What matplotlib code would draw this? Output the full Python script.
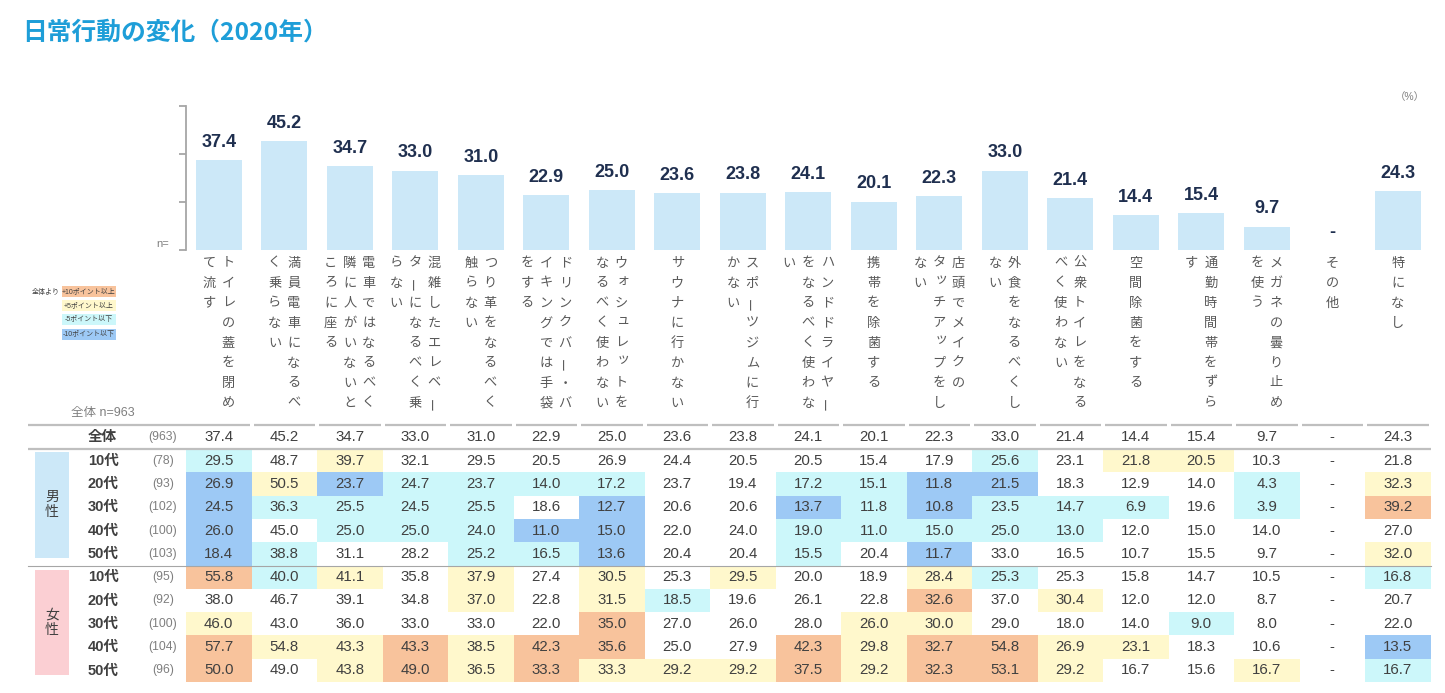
import numpy as np
import matplotlib
matplotlib.use("Agg")
import matplotlib.pyplot as plt
from matplotlib.patches import Rectangle

plt.rcParams["font.family"] = ["Liberation Sans", "Noto Sans CJK JP", "DejaVu Sans"]

# ---- data ----
labels = [
    "トイレの蓋を閉め\nて流す",
    "満員電車になるべ\nく乗らない",
    "電車ではなるべく\n隣に人がいないと\nころに座る",
    "混雑したエレベー\nターになるべく乗\nらない",
    "つり革をなるべく\n触らない",
    "ドリンクバー・バ\nイキングでは手袋\nをする",
    "ウォシュレットを\nなるべく使わない",
    "サウナに行かない",
    "スポーツジムに行\nかない",
    "ハンドドライヤー\nをなるべく使わな\nい",
    "携帯を除菌する",
    "店頭でメイクの\nタッチアップをし\nない",
    "外食をなるべくし\nない",
    "公衆トイレをなる\nべく使わない",
    "空間除菌をする",
    "通勤時間帯をずら\nす",
    "メガネの曇り止め\nを使う",
    "その他",
    "特になし",
]

total = [37.4, 45.2, 34.7, 33.0, 31.0, 22.9, 25.0, 23.6, 23.8, 24.1,
         20.1, 22.3, 33.0, 21.4, 14.4, 15.4, 9.7, np.nan, 24.3]
total_n = 963

age_groups = ["10代", "20代", "30代", "40代", "50代"]
male_n = [78, 93, 102, 100, 103]
female_n = [95, 92, 100, 104, 96]

male_10s = [29.5, 48.7, 39.7, 32.1, 29.5, 20.5, 26.9, 24.4, 20.5, 20.5, 15.4, 17.9, 25.6, 23.1, 21.8, 20.5, 10.3, np.nan, 21.8]
male_20s = [26.9, 50.5, 23.7, 24.7, 23.7, 14.0, 17.2, 23.7, 19.4, 17.2, 15.1, 11.8, 21.5, 18.3, 12.9, 14.0, 4.3, np.nan, 32.3]
male_30s = [24.5, 36.3, 25.5, 24.5, 25.5, 18.6, 12.7, 20.6, 20.6, 13.7, 11.8, 10.8, 23.5, 14.7, 6.9, 19.6, 3.9, np.nan, 39.2]
male_40s = [26.0, 45.0, 25.0, 25.0, 24.0, 11.0, 15.0, 22.0, 24.0, 19.0, 11.0, 15.0, 25.0, 13.0, 12.0, 15.0, 14.0, np.nan, 27.0]
male_50s = [18.4, 38.8, 31.1, 28.2, 25.2, 16.5, 13.6, 20.4, 20.4, 15.5, 20.4, 11.7, 33.0, 16.5, 10.7, 15.5, 9.7, np.nan, 32.0]

female_10s = [55.8, 40.0, 41.1, 35.8, 37.9, 27.4, 30.5, 25.3, 29.5, 20.0, 18.9, 28.4, 25.3, 25.3, 15.8, 14.7, 10.5, np.nan, 16.8]
female_20s = [38.0, 46.7, 39.1, 34.8, 37.0, 22.8, 31.5, 18.5, 19.6, 26.1, 22.8, 32.6, 37.0, 30.4, 12.0, 12.0, 8.7, np.nan, 20.7]
female_30s = [46.0, 43.0, 36.0, 33.0, 33.0, 22.0, 35.0, 27.0, 26.0, 28.0, 26.0, 30.0, 29.0, 18.0, 14.0, 9.0, 8.0, np.nan, 22.0]
female_40s = [57.7, 54.8, 43.3, 43.3, 38.5, 42.3, 35.6, 25.0, 27.9, 42.3, 29.8, 32.7, 54.8, 26.9, 23.1, 18.3, 10.6, np.nan, 13.5]
female_50s = [50.0, 49.0, 43.8, 49.0, 36.5, 33.3, 33.3, 29.2, 29.2, 37.5, 29.2, 32.3, 53.1, 29.2, 16.7, 15.6, 16.7, np.nan, 16.7]

male_rows = [male_10s, male_20s, male_30s, male_40s, male_50s]
female_rows = [female_10s, female_20s, female_30s, female_40s, female_50s]

legend_labels = ["+10ポイント以上", "+5ポイント以上", "-5ポイント以下", "-10ポイント以下"]

# ---- style ----
C_UP10 = "#f8c39c"
C_UP5 = "#fff8cc"
C_DN5 = "#ccf7fa"
C_DN10 = "#9dc9f5"
BAR = "#cce8f8"
TXT = "#404040"
GRAY = "#7f7f7f"
LINE = "#bfbfbf"

W, H = 1445, 693
X0, CW = 186.0, 65.5          # table/bar column start and width (px)
NCOL = len(labels)


def cell_color(v, base):
    if np.isnan(v) or np.isnan(base):
        return None
    d = round(v - base, 1)
    if d >= 10:
        return C_UP10
    if d >= 5:
        return C_UP5
    if d <= -10:
        return C_DN10
    if d <= -5:
        return C_DN5
    return None


def fmt(v):
    return "-" if np.isnan(v) else f"{v:.1f}"


fig = plt.figure(figsize=(W / 100, H / 100), dpi=100)

# overlay axes in pixel coordinates
ov = fig.add_axes([0, 0, 1, 1])
ov.set_xlim(0, W)
ov.set_ylim(H, 0)
ov.axis("off")

# ---- bar chart ----
base_y, top_y = 250.0, 105.5
axb = fig.add_axes([X0 / W, 1 - base_y / H, NCOL * CW / W, (base_y - top_y) / H])
xs = np.arange(NCOL)
axb.bar(xs, np.nan_to_num(total), width=0.7, color=BAR)
axb.set_xlim(-0.5, NCOL - 0.5)
axb.set_ylim(0, 60)
axb.set_yticks([0, 20, 40, 60])
axb.set_yticklabels([])
axb.set_xticks([])
for s in ["top", "right", "bottom"]:
    axb.spines[s].set_visible(False)
axb.spines["left"].set_color("#a6a6a6")
axb.spines["left"].set_linewidth(1.3)
axb.tick_params(axis="y", direction="out", length=5, width=1.3, color="#a6a6a6")
axb.patch.set_alpha(0)
for x, v in zip(xs, total):
    axb.annotate(fmt(v), (x, 0 if np.isnan(v) else v), xytext=(0, 9.5),
                 textcoords="offset points", ha="center", va="baseline",
                 fontsize=13, fontweight="bold", color="#1f2f4f")

ov.text(163, 244, "n=", ha="center", va="center", fontsize=8, color=GRAY)
ov.text(1410, 97, "（%）", ha="center", va="center", fontsize=7.5, color=GRAY)

# title
ov.text(22, 33, "日常行動の変化（2020年）", ha="left", va="center",
        fontsize=17.8, fontweight="bold", color="#1e9ed8",
        family=["Noto Sans CJK JP", "Liberation Sans"])

# ---- vertical category labels ----
small_kana = set("ッォュャィョェァ")
for i, lab in enumerate(labels):
    cx = X0 + (i + 0.5) * CW
    cols = lab.split("\n")
    n = len(cols)
    for j, col in enumerate(cols):
        x = cx + ((n - 1) / 2 - j) * 19
        for k, ch in enumerate(col):
            y = 263 + k * 20
            rot = 0
            dx = dy = 0
            if ch == "ー":
                rot = 90
            if ch in small_kana:
                dx, dy = 2.5, -3
            ov.text(x + dx, y + dy, ch, ha="center", va="center", rotation=rot,
                    fontsize=9.5, color="#595959", family=["Noto Sans CJK JP"])

# ---- legend ----
ov.text(46, 292, "全体より", ha="center", va="center", fontsize=5, color=TXT,
        family=["Noto Sans CJK JP"])
for (y0, y1), col, lab in zip([(286, 297), (300, 311), (314, 325), (329, 340)],
                              [C_UP10, C_UP5, C_DN5, C_DN10], legend_labels):
    ov.add_patch(Rectangle((62, y0), 54, y1 - y0, facecolor=col, edgecolor="none"))
    ov.text(89, (y0 + y1) / 2, lab, ha="center", va="center", fontsize=5,
            color=TXT)

ov.text(103, 413, "全体 n=963", ha="center", va="center", fontsize=9, color=GRAY)

# ---- table ----
RH = 23.3
VAL_FS = 10.8
# segmented top line
for i in range(NCOL):
    xa = 28 if i == 0 else X0 + i * CW + 2
    xb = X0 + (i + 1) * CW - 2
    ov.plot([xa, xb], [424.5, 424.5], color=LINE, lw=1.6, solid_capstyle="butt")
ov.plot([28, X0 + NCOL * CW], [449, 449], color=LINE, lw=1.6, solid_capstyle="butt")

# overall row
ty = 437
ov.text(88, ty, "全体", ha="left", va="center", fontsize=10.5, fontweight="bold", color=TXT)
ov.text(163, ty, f"({total_n})", ha="center", va="center", fontsize=8.7, color=GRAY)
for i, v in enumerate(total):
    ov.text(X0 + (i + 0.5) * CW, ty, fmt(v), ha="center", va="center",
            fontsize=VAL_FS, color=TXT)


def draw_block(rows, ns, y_start):
    for r, (vals, nn) in enumerate(zip(rows, ns)):
        yc = y_start + (r + 0.5) * RH
        for i, v in enumerate(vals):
            c = cell_color(v, total[i])
            if c:
                ov.add_patch(Rectangle((X0 + i * CW, y_start + r * RH), CW, RH,
                                       facecolor=c, edgecolor="none"))
            ov.text(X0 + (i + 0.5) * CW, yc, fmt(v), ha="center", va="center",
                    fontsize=VAL_FS, color=TXT)
        ov.text(88, yc, age_groups[r], ha="left", va="center", fontsize=10.5,
                fontweight="bold", color=TXT)
        ov.text(163, yc, f"({nn})", ha="center", va="center", fontsize=8.7, color=GRAY)


male_top = 449
female_top = male_top + 5 * RH
draw_block(male_rows, male_n, male_top)
draw_block(female_rows, female_n, female_top)
ov.plot([28, X0 + NCOL * CW], [female_top, female_top], color="#a6a6a6", lw=0.8)

# gender boxes
ov.add_patch(Rectangle((35, 452), 34, 106, facecolor="#cce8f8", edgecolor="none"))
ov.add_patch(Rectangle((35, 570), 34, 105, facecolor="#fbcfd3", edgecolor="none"))
for ch, y in zip("男性", [497, 512]):
    ov.text(52, y, ch, ha="center", va="center", fontsize=10, color=TXT,
            family=["Noto Sans CJK JP"])
for ch, y in zip("女性", [615, 630]):
    ov.text(52, y, ch, ha="center", va="center", fontsize=10, color=TXT,
            family=["Noto Sans CJK JP"])

fig.savefig("out.png", dpi=100)
